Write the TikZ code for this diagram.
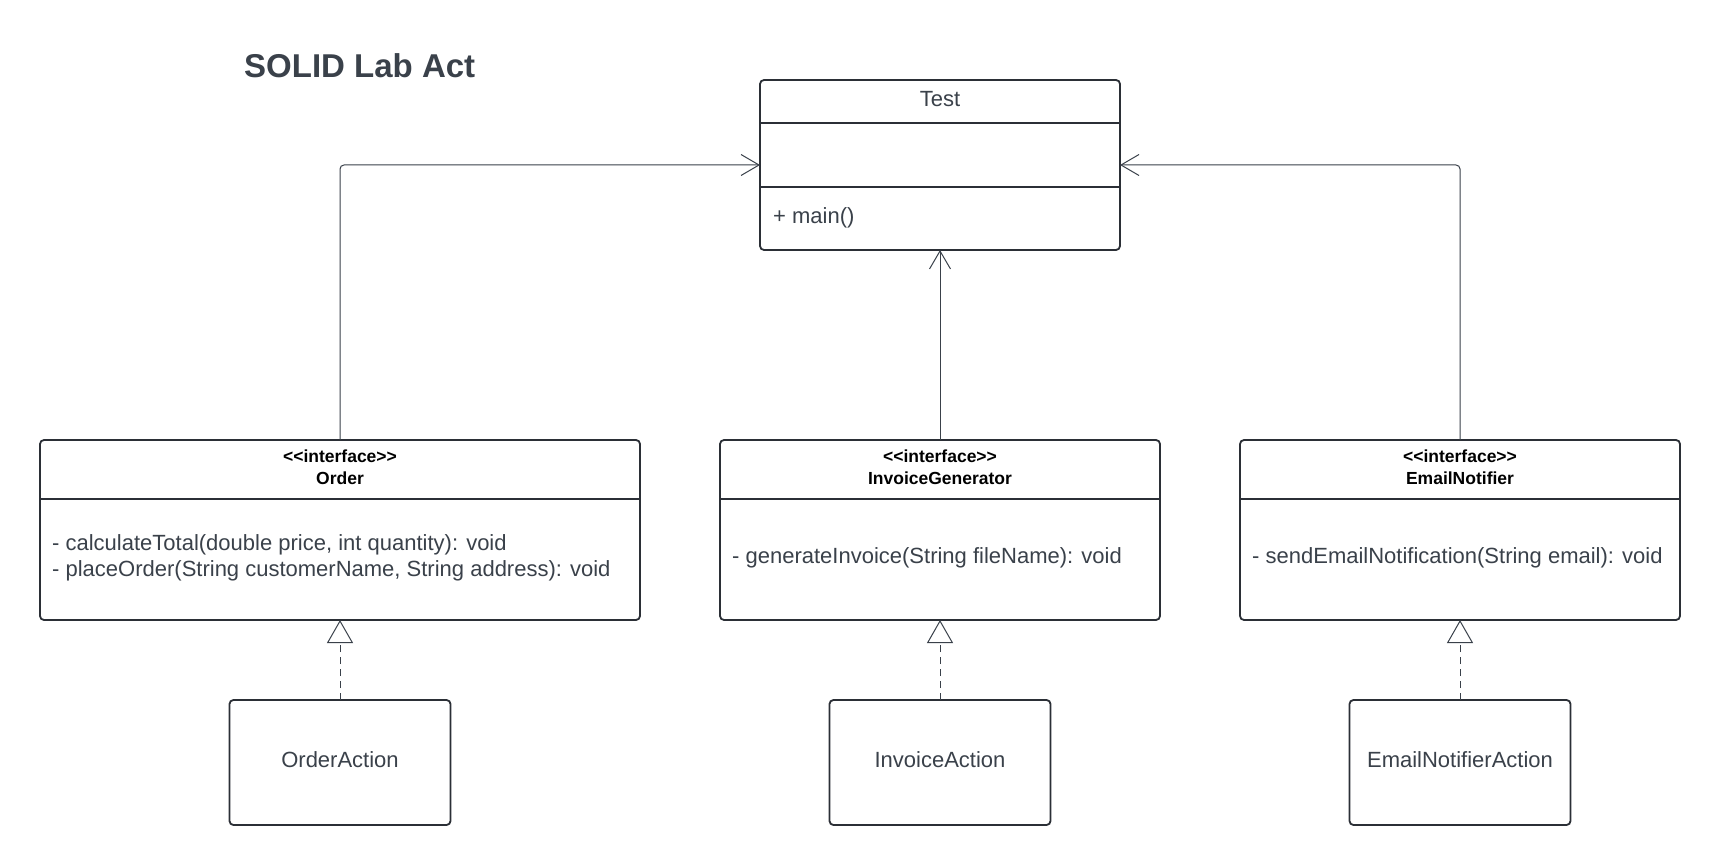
\documentclass[tikz,border=0pt]{standalone}
\usepackage{fontspec}
\setmainfont{Liberation Sans}
\usetikzlibrary{arrows.meta}
\definecolor{linec}{HTML}{2B2F36}
\definecolor{connc}{HTML}{3A414A}
\definecolor{textc}{HTML}{3A414A}
\tikzset{
  umlbox/.style={draw=linec, line width=1.8pt, rounded corners=4pt, inner sep=0pt, outer sep=0pt, fill=white},
  divider/.style={draw=linec, line width=1.8pt},
  bodytext/.style={text=textc, inner sep=0pt, align=left, font=\fontsize{22pt}{26pt}\selectfont},
  centertext/.style={text=textc, inner sep=0pt, align=center, font=\fontsize{22pt}{26pt}\selectfont},
  actiontext/.style={centertext, text height=16pt, text depth=7pt},
  headtext/.style={text=black, inner sep=0pt, align=center, font=\fontsize{17.5pt}{22pt}\selectfont\bfseries},
  assoc/.style={draw=connc, line width=1pt, rounded corners=4pt, -{Straight Barb[length=18pt,width=21pt,line width=1pt]}},
  realize/.style={draw=connc, line width=1pt, dash pattern=on 7pt off 5pt, -{Triangle[open,fill=white,length=23pt,width=26pt,line width=1pt]}},
}
\newcommand{\stereo}[1]{<{}<#1>{}>}
\begin{document}
\begin{tikzpicture}[x=1pt,y=-1pt]
\useasboundingbox[fill=white] (0,0) rectangle (1720,866);

% title
\node[text=textc, inner sep=0pt, anchor=west, font=\fontsize{33pt}{38pt}\selectfont\bfseries] (title) at (244,66) {SOLID Lab Act};

% Test class
\node[umlbox, minimum width=360pt, minimum height=170pt, anchor=north west] (test) at (760,80) {};
\draw[divider] (760,123) -- (1120,123);
\draw[divider] (760,187) -- (1120,187);
\node[centertext] (testname) at (940,99) {Test};
\node[bodytext, anchor=west] (testop) at (773,218) {+ main()};

% Order interface
\node[umlbox, minimum width=600pt, minimum height=180pt, anchor=north west] (order) at (40,440) {};
\draw[divider] (40,499) -- (640,499);
\node[headtext] (orderhead) at (340,467) {\stereo{interface}\\Order};
\node[bodytext, anchor=west] (orderops) at (52,558) {- calculateTotal(double price, int quantity): void\\- placeOrder(String customerName, String address): void};

% InvoiceGenerator interface
\node[umlbox, minimum width=440pt, minimum height=180pt, anchor=north west] (invoice) at (720,440) {};
\draw[divider] (720,499) -- (1160,499);
\node[headtext] (invoicehead) at (940,467) {\stereo{interface}\\InvoiceGenerator};
\node[bodytext, anchor=west] (invoiceops) at (732,558) {- generateInvoice(String fileName): void};

% EmailNotifier interface
\node[umlbox, minimum width=440pt, minimum height=180pt, anchor=north west] (email) at (1240,440) {};
\draw[divider] (1240,499) -- (1680,499);
\node[headtext] (emailhead) at (1460,467) {\stereo{interface}\\EmailNotifier};
\node[bodytext, anchor=west] (emailops) at (1252,558) {- sendEmailNotification(String email): void};

% Action classes
\node[umlbox, minimum width=221pt, minimum height=125pt, actiontext] (orderaction) at (340,762.5) {OrderAction};
\node[umlbox, minimum width=221pt, minimum height=125pt, actiontext] (invoiceaction) at (940,762.5) {InvoiceAction};
\node[umlbox, minimum width=221pt, minimum height=125pt, actiontext] (emailaction) at (1460,762.5) {EmailNotifierAction};

% associations
\draw[assoc] (order.north) |- (test.west);
\draw[assoc] (invoice.north) -- (test.south);
\draw[assoc] (email.north) |- (test.east);

% realizations
\draw[realize] (orderaction.north) -- (order.south);
\draw[realize] (invoiceaction.north) -- (invoice.south);
\draw[realize] (emailaction.north) -- (email.south);
\end{tikzpicture}
\end{document}
